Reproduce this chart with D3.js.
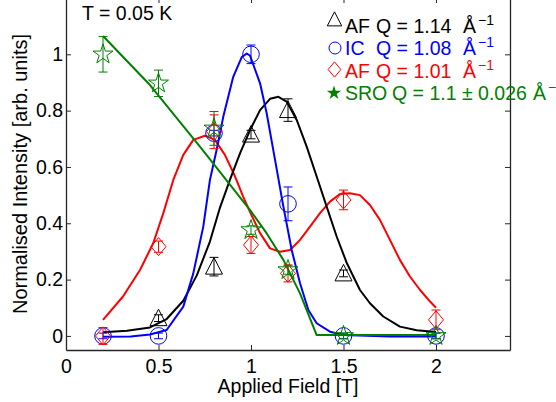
<!DOCTYPE html>
<html>
<head>
<meta charset="utf-8">
<script src="https://cdn.jsdelivr.net/npm/d3@7"></script>
<style>
  html, body { margin: 0; padding: 0; background: #fff; }
  svg { display: block; }
  text { font-family: "Liberation Sans", Arial, Helvetica, sans-serif; }
</style>
</head>
<body>
<svg id="chart" width="556" height="402"></svg>
<script>
// ---------------- data ----------------
const fields = [0.2, 0.5, 0.8, 1.0, 1.2, 1.5, 2.0];

// AF Q = 1.14 (black triangles)
const afHighValues = [null, 0.063, 0.246, 0.715, 0.802, 0.222, null];
const afHighErrors = [0, 0.012, 0.033, 0.015, 0.04, 0.012, 0];
// IC Q = 1.08 (blue circles)
const icValues = [0.0, 0.0, 0.72, 1.0, 0.469, 0.0, 0.0];
const icErrors = [0.01, 0.01, 0.01, 0.033, 0.06, 0.01, 0.01];
// AF Q = 1.01 (red diamonds)
const afLowValues = [0.0, 0.317, 0.725, 0.323, 0.222, 0.483, 0.057];
const afLowErrors = [0.03, 0.02, 0.06, 0.03, 0.03, 0.035, 0.035];
// SRO Q = 1.1 (green stars)
const sroValues = [1.0, 0.897, 0.737, 0.376, 0.234, 0.0, 0.0];
const sroErrors = [0.063, 0.047, 0.06, 0.015, 0.015, 0.01, 0.01];

// fitted curves
const afHighFitX = [0.2, 0.33, 0.454, 0.544, 0.634, 0.707, 0.778, 0.832, 0.886, 0.941, 0.995, 1.049, 1.103, 1.148, 1.193, 1.247, 1.301, 1.355, 1.409, 1.463, 1.517, 1.589, 1.643, 1.715, 1.805, 1.896, 2.0];
const afHighFitY = [0.013, 0.018, 0.03, 0.06, 0.125, 0.215, 0.335, 0.455, 0.554, 0.649, 0.731, 0.802, 0.842, 0.849, 0.832, 0.767, 0.672, 0.566, 0.459, 0.353, 0.26, 0.163, 0.116, 0.069, 0.033, 0.02, 0.014];

const icFitX = [0.2, 0.35, 0.454, 0.544, 0.634, 0.688, 0.742, 0.778, 0.814, 0.85, 0.904, 0.95, 0.977, 0.995, 1.049, 1.085, 1.13, 1.175, 1.22, 1.265, 1.31, 1.355, 1.427, 1.5, 1.75, 2.0];
const icFitY = [-0.003, -0.002, 0.005, 0.021, 0.104, 0.222, 0.388, 0.554, 0.66, 0.778, 0.92, 0.99, 1.003, 0.995, 0.897, 0.79, 0.625, 0.459, 0.305, 0.187, 0.092, 0.045, 0.015, 0.003, -0.002, -0.002];

const afLowFitX = [0.2, 0.308, 0.40, 0.472, 0.526, 0.58, 0.634, 0.688, 0.751, 0.805, 0.859, 0.914, 0.958, 0.995, 1.049, 1.103, 1.157, 1.211, 1.265, 1.319, 1.373, 1.427, 1.481, 1.535, 1.589, 1.643, 1.697, 1.751, 1.805, 1.859, 1.914, 1.968, 2.0];
const afLowFitY = [0.057, 0.14, 0.234, 0.33, 0.436, 0.554, 0.643, 0.696, 0.711, 0.696, 0.643, 0.566, 0.494, 0.44, 0.365, 0.311, 0.299, 0.305, 0.341, 0.388, 0.436, 0.477, 0.504, 0.507, 0.5, 0.465, 0.412, 0.341, 0.27, 0.211, 0.163, 0.122, 0.1];

const sroFitX = [0.2, 0.454, 0.724, 0.995, 1.085, 1.175, 1.265, 1.355, 2.0];
const sroFitY = [1.065, 0.891, 0.672, 0.447, 0.364, 0.27, 0.151, 0.003, 0.003];

const xTicks = [0, 0.5, 1, 1.5, 2];
const yTicks = [0, 0.2, 0.4, 0.6, 0.8, 1];
const xTickLabels = ["0", "0.5", "1", "1.5", "2"];
const yTickLabels = ["0", "0.2", "0.4", "0.6", "0.8", "1"];

const colors = { afHigh: "#000000", ic: "#0000ff", afLow: "#ff0000", sro: "#008000" };

// ---------------- layout ----------------
const svg = d3.select("#chart");
const x = d3.scaleLinear().domain([0, 2.4]).range([66, 510]);
const y = d3.scaleLinear().domain([-0.05, 1.2]).range([350, -2]);
const axisColor = "#262626";
const FS = "19.5px";

// axes
const gx = svg.append("g").attr("transform", `translate(0,${y(-0.05)})`)
  .call(d3.axisBottom(x).tickValues(xTicks).tickFormat((d, i) => xTickLabels[i]).tickSizeInner(-5).tickSizeOuter(0).tickPadding(9));
const gxt = svg.append("g").attr("transform", `translate(0,${y(1.2)})`)
  .call(d3.axisTop(x).tickValues(xTicks).tickFormat("").tickSizeInner(-5).tickSizeOuter(0));
const gy = svg.append("g").attr("transform", `translate(${x(0)},0)`)
  .call(d3.axisLeft(y).tickValues(yTicks).tickFormat((d, i) => yTickLabels[i]).tickSizeInner(-5).tickSizeOuter(0).tickPadding(3));
const gyr = svg.append("g").attr("transform", `translate(${x(2.4)},0)`)
  .call(d3.axisRight(y).tickValues(yTicks).tickFormat("").tickSizeInner(-5).tickSizeOuter(0));
[gx, gxt, gy, gyr].forEach(g => {
  g.selectAll("path.domain").attr("stroke", axisColor).attr("stroke-width", 1.3);
  g.selectAll(".tick line").attr("stroke", axisColor).attr("stroke-width", 1);
  g.selectAll(".tick text").attr("fill", "#000").style("font-size", FS)
    .style("font-family", '"Liberation Sans", Arial, sans-serif');
});
gx.select(".tick:first-of-type line").remove();

// axis titles
svg.append("text").attr("x", (x(0) + x(2.4)) / 2).attr("y", 393)
  .attr("text-anchor", "middle").style("font-size", FS).text("Applied Field [T]");
svg.append("text").attr("transform", `translate(27,${(y(-0.05) + y(1.2)) / 2}) rotate(-90)`)
  .attr("text-anchor", "middle").style("font-size", "20px").text("Normalised Intensity [arb. units]");

svg.append("text").attr("x", 82).attr("y", 20).style("font-size", FS).text("T = 0.05 K");

// fit curves
const line = d3.line().x(d => x(d[0])).y(d => y(d[1]));
function drawFit(xs, ys, color) {
  svg.append("path").datum(xs.map((v, i) => [v, ys[i]]))
    .attr("d", line).attr("fill", "none").attr("stroke", color)
    .attr("stroke-width", 2).attr("stroke-linejoin", "round");
}
drawFit(afLowFitX, afLowFitY, colors.afLow);
drawFit(afHighFitX, afHighFitY, colors.afHigh);
drawFit(icFitX, icFitY, colors.ic);
drawFit(sroFitX, sroFitY, colors.sro);

// marker shapes
function starPath(R) {
  const r = R * 0.382; let p = "";
  for (let k = 0; k < 10; k++) {
    const rad = k % 2 === 0 ? R : r;
    const a = -Math.PI / 2 + k * Math.PI / 5;
    p += (k === 0 ? "M" : "L") + (rad * Math.cos(a)).toFixed(2) + "," + (rad * Math.sin(a)).toFixed(2);
  }
  return p + "Z";
}
const shapes = {
  triangle: s => `M0,${-9 * s}L${8.5 * s},${7.5 * s}L${-8.5 * s},${7.5 * s}Z`,
  diamond: s => `M0,${-9 * s}L${7.5 * s},0L0,${9 * s}L${-7.5 * s},0Z`,
  star: s => starPath(10.5 * s)
};

function drawSeries(values, errors, color, shape) {
  const pts = fields.map((f, i) => ({ f, v: values[i], e: errors[i] })).filter(d => d.v !== null);
  const g = svg.append("g").attr("stroke", color).attr("fill", "none").attr("stroke-width", 1);
  pts.forEach(d => {
    if (d.e > 0) {
      const cx = x(d.f), y1 = y(d.v - d.e), y2 = y(d.v + d.e);
      g.append("line").attr("x1", cx).attr("x2", cx).attr("y1", y1).attr("y2", y2);
      g.append("line").attr("x1", cx - 4.5).attr("x2", cx + 4.5).attr("y1", y1).attr("y2", y1);
      g.append("line").attr("x1", cx - 4.5).attr("x2", cx + 4.5).attr("y1", y2).attr("y2", y2);
    }
    if (shape === "circle") {
      g.append("circle").attr("cx", x(d.f)).attr("cy", y(d.v)).attr("r", 8.3);
    } else {
      g.append("path").attr("transform", `translate(${x(d.f)},${y(d.v)})`).attr("d", shapes[shape](1));
    }
  });
}
drawSeries(afHighValues, afHighErrors, colors.afHigh, "triangle");
drawSeries(icValues, icErrors, colors.ic, "circle");
drawSeries(afLowValues, afLowErrors, colors.afLow, "diamond");
drawSeries(sroValues, sroErrors, colors.sro, "star");

// legend (text annotations)
const legend = [
  { shape: "triangle", color: colors.afHigh, name: "AF", q: "Q = 1.14", cy: 19.5, base: 33, ax: 463 },
  { shape: "circle", color: colors.ic, name: "IC", q: "Q = 1.08", cy: 48, base: 55, ax: 463 },
  { shape: "diamond", color: colors.afLow, name: "AF", q: "Q = 1.01", cy: 69.5, base: 77.5, ax: 463 },
  { shape: "star", color: colors.sro, name: "SRO", q: "Q = 1.1 \u00B1 0.026", cy: 93, base: 100, ax: 533 }
];
legend.forEach(l => {
  const g = svg.append("g").attr("fill", l.color);
  if (l.shape === "circle") {
    g.append("circle").attr("cx", 335).attr("cy", l.cy).attr("r", 6).attr("fill", "none").attr("stroke", l.color).attr("stroke-width", 1);
  } else if (l.shape === "star") {
    g.append("path").attr("transform", `translate(334,${l.cy})`).attr("d", starPath(7.5)).attr("fill", l.color);
  } else {
    g.append("path").attr("transform", `translate(334.5,${l.cy})`).attr("d", shapes[l.shape](0.85))
      .attr("fill", "none").attr("stroke", l.color).attr("stroke-width", 1);
  }
  g.append("text").attr("x", 345).attr("y", l.base).style("font-size", FS).text(l.name);
  g.append("text").attr("x", l.shape === "star" ? 392 : 376).attr("y", l.base).style("font-size", FS).text(l.q);
  g.append("text").attr("x", l.ax).attr("y", l.base).style("font-size", FS).text("\u00C5");
  g.append("text").attr("x", l.ax + 15).attr("y", l.base - 8).style("font-size", "14px").text("\u22121");
});
</script>
</body>
</html>
